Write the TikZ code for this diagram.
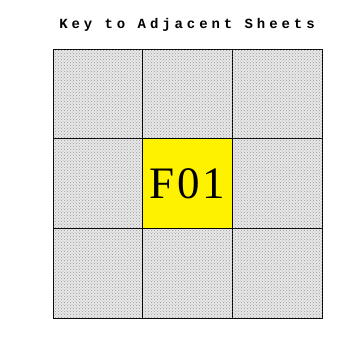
\documentclass[tikz,border=0pt]{standalone}
\usepackage{fontspec}
\usepackage{tikz}
\usetikzlibrary{patterns}
\newfontfamily\keyfont[LetterSpace=28]{Liberation Mono Bold}
\newfontfamily\sheetfont[LetterSpace=6]{Liberation Serif}

\begin{document}
\begin{tikzpicture}[x=1pt,y=-1pt,cell/.style={draw=black,line width=1.2pt,minimum size=89.7pt,inner sep=0pt,fill=gray!18,postaction={pattern=crosshatch dots,pattern color=gray!80}},here/.style={draw=black,line width=1.2pt,minimum size=89.7pt,inner sep=0pt,fill=yellow,font=\sheetfont\fontsize{45}{45}\selectfont}]
\useasboundingbox (0,0) rectangle (364,349);
\node[font=\keyfont\fontsize{14}{14}\selectfont] (title) at (187,25) {Key to Adjacent Sheets};
\foreach \i in {0,1,2}
  \foreach \j in {0,1,2}
    \node[cell] (c-\i-\j) at (98+89.7*\i,94+89.7*\j) {};
\node[here] (f01) at (c-1-1) {F01};
\end{tikzpicture}
\end{document}
